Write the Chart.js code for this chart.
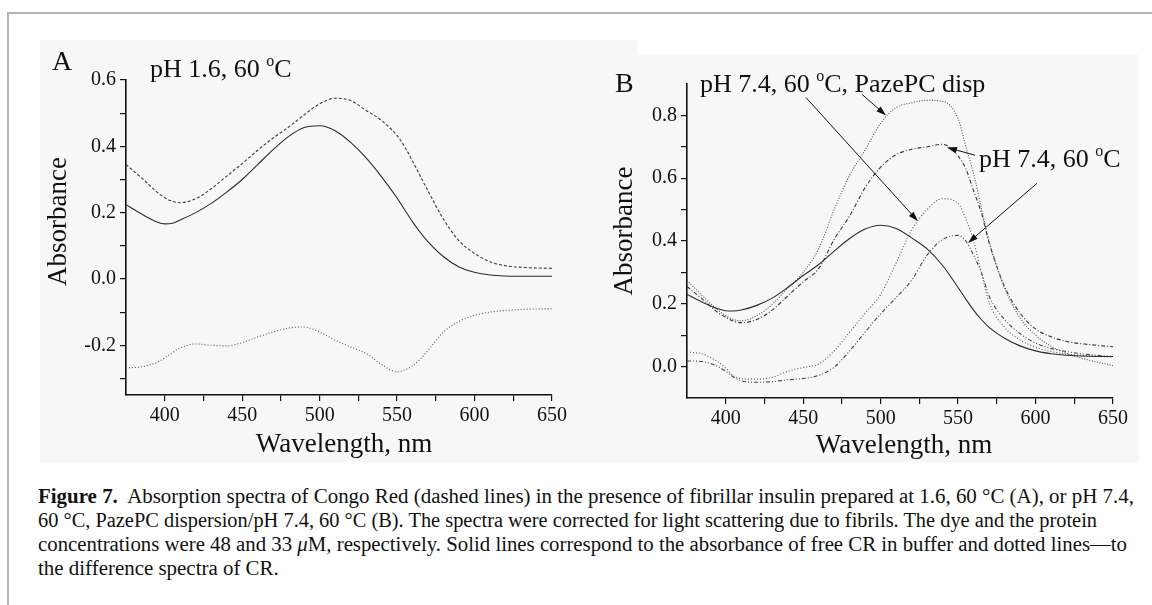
<!DOCTYPE html>
<html>
<head>
<meta charset="utf-8">
<script src="https://cdn.jsdelivr.net/npm/chart.js@4/dist/chart.umd.min.js"></script>
<style>
  html, body { margin: 0; padding: 0; background: #fff; }
  body { width: 1152px; height: 605px; position: relative; overflow: hidden; font-family: "Liberation Serif", serif; }
  .rule { position: absolute; background: #b4b4b4; }
  .panel-bg { position: absolute; background: #f7f7f7; }
  .wrap { position: absolute; top: 0; height: 470px; }
  #wrapA { left: 0; width: 580px; }
  #wrapB { left: 580px; width: 572px; }
  #caption { position: absolute; left: 38px; top: 484px; font-size: 20.5px; line-height: 24px; color: #111; white-space: nowrap; }
  #caption div { transform-origin: 0 0; width: max-content; }
</style>
</head>
<body>
<div class="rule" style="left:7px; top:12px; width:1145px; height:2px;"></div>
<div class="rule" style="left:7px; top:12px; width:2px; height:593px;"></div>
<div class="panel-bg" style="left:40px; top:40px; width:540px; height:422px;"></div>
<div class="panel-bg" style="left:580px; top:40px; width:57px; height:422px;"></div>
<div class="panel-bg" style="left:580px; top:55px; width:559px; height:407px;"></div>

<div class="wrap" id="wrapA"><canvas id="chartA" width="580" height="470"></canvas></div>
<div class="wrap" id="wrapB"><canvas id="chartB" width="572" height="470"></canvas></div>

<div id="caption">
  <div data-w="1096"><b>Figure 7.</b>&nbsp; Absorption spectra of Congo Red (dashed lines) in the presence of fibrillar insulin prepared at 1.6, 60 °C (A), or pH 7.4,</div>
  <div data-w="1059">60 °C, PazePC dispersion/pH 7.4, 60 °C (B). The spectra were corrected for light scattering due to fibrils. The dye and the protein</div>
  <div data-w="1089">concentrations were 48 and 33 <i>μ</i>M, respectively. Solid lines correspond to the absorbance of free CR in buffer and dotted lines—to</div>
  <div>the difference spectra of CR.</div>
</div>

<script>
// ── data ───────────────────────────────────────────────────────
var wavelengths = [375, 385, 395, 400, 405, 410, 420, 430, 440, 450, 460, 470, 480, 490, 500, 510,
                   520, 530, 540, 550, 555, 560, 565, 570, 580, 590, 600, 610, 620, 635, 650];

// panel A: pH 1.6, 60 C
var freeCR_A   = [0.224, 0.196, 0.172, 0.166, 0.168, 0.178, 0.200, 0.228, 0.262, 0.300, 0.345, 0.390, 0.430, 0.457, 0.462, 0.447,
                  0.412, 0.365, 0.308, 0.244, 0.208, 0.172, 0.140, 0.112, 0.067, 0.036, 0.020, 0.012, 0.009, 0.008, 0.008];
var fibrilCR_A = [0.345, 0.305, 0.262, 0.245, 0.234, 0.230, 0.242, 0.272, 0.310, 0.348, 0.388, 0.425, 0.458, 0.495, 0.528, 0.545,
                  0.538, 0.508, 0.478, 0.432, 0.398, 0.355, 0.310, 0.265, 0.180, 0.115, 0.077, 0.052, 0.040, 0.034, 0.032];
var diffCR_A   = [-0.268, -0.265, -0.252, -0.238, -0.222, -0.208, -0.196, -0.200, -0.202, -0.192, -0.175, -0.160, -0.148, -0.145, -0.160, -0.185,
                  -0.205, -0.225, -0.258, -0.280, -0.274, -0.262, -0.242, -0.215, -0.160, -0.128, -0.110, -0.100, -0.095, -0.091, -0.090];

// panel B: pH 7.4, 60 C and PazePC dispersion
var freeCR_B   = [0.230, 0.205, 0.184, 0.178, 0.177, 0.180, 0.195, 0.218, 0.252, 0.290, 0.325, 0.368, 0.408, 0.438, 0.450, 0.440,
                  0.410, 0.375, 0.322, 0.252, 0.215, 0.180, 0.150, 0.125, 0.090, 0.066, 0.050, 0.041, 0.036, 0.033, 0.032];
var pazeCR_B   = [0.275, 0.225, 0.180, 0.162, 0.150, 0.146, 0.162, 0.198, 0.250, 0.300, 0.375, 0.500, 0.610, 0.690, 0.775, 0.825,
                  0.840, 0.848, 0.845, 0.790, 0.700, 0.615, 0.505, 0.400, 0.250, 0.155, 0.100, 0.065, 0.042, 0.020, 0.003];
var ph74CR_B   = [0.255, 0.215, 0.172, 0.157, 0.145, 0.140, 0.150, 0.180, 0.225, 0.270, 0.312, 0.405, 0.480, 0.570, 0.635, 0.675,
                  0.692, 0.700, 0.708, 0.670, 0.630, 0.560, 0.490, 0.395, 0.255, 0.170, 0.120, 0.095, 0.080, 0.070, 0.063];
var pazeDiff_B = [0.047, 0.040, 0.015, -0.005, -0.030, -0.038, -0.040, -0.034, -0.015, -0.003, 0.008, 0.050, 0.110, 0.170, 0.230, 0.330,
                  0.435, 0.500, 0.535, 0.520, 0.470, 0.400, 0.300, 0.205, 0.125, 0.085, 0.062, 0.048, 0.040, 0.034, 0.030];
var ph74Diff_B = [0.018, 0.016, 0.000, -0.015, -0.033, -0.045, -0.050, -0.048, -0.042, -0.038, -0.028, -0.002, 0.050, 0.110, 0.168, 0.220,
                  0.275, 0.355, 0.405, 0.418, 0.400, 0.355, 0.300, 0.225, 0.150, 0.105, 0.075, 0.058, 0.048, 0.038, 0.032];

// ticks
var xTicks      = [400, 425, 450, 475, 500, 525, 550, 575, 600, 625, 650];
var xTickLabels = [400, 450, 500, 550, 600, 650];
var yTicksA      = [-0.3, -0.2, -0.1, 0.0, 0.1, 0.2, 0.3, 0.4, 0.5, 0.6];
var yTickLabelsA = [-0.2, 0.0, 0.2, 0.4, 0.6];
var yTicksB      = [0.0, 0.1, 0.2, 0.3, 0.4, 0.5, 0.6, 0.7, 0.8];
var yTickLabelsB = [0.0, 0.2, 0.4, 0.6, 0.8];

var SERIF = '"Liberation Serif", "Times New Roman", serif';

function pts(ys) {
  return wavelengths.map(function(x, i) { return { x: x, y: ys[i] }; });
}

function line(ys, color, dash, width) {
  return {
    data: pts(ys),
    borderColor: color,
    borderWidth: width || 1.1,
    borderDash: dash || [],
    pointRadius: 0,
    fill: false,
    cubicInterpolationMode: "monotone"
  };
}

function tickFmt(list) {
  return function(v) {
    for (var i = 0; i < list.length; i++) {
      if (Math.abs(list[i] - v) < 1e-6) return Number(list[i]).toFixed(list === xTickLabels ? 0 : 1);
    }
    return "";
  };
}

// draw a string made of segments, some of them superscript
function drawSegments(ctx, segs, x, y, size) {
  var cx = x;
  segs.forEach(function(s) {
    if (s.sup) {
      ctx.font = Math.round(size * 0.6) + "px " + SERIF;
      ctx.fillText(s.t, cx, y - size * 0.42);
    } else {
      ctx.font = size + "px " + SERIF;
      ctx.fillText(s.t, cx, y);
    }
    cx += ctx.measureText(s.t).width;
  });
}

function arrow(ctx, x1, y1, x2, y2) {
  var ang = Math.atan2(y2 - y1, x2 - x1);
  var len = 10, hw = 3.2;
  ctx.beginPath();
  ctx.moveTo(x1, y1);
  ctx.lineTo(x2 - Math.cos(ang) * len * 0.8, y2 - Math.sin(ang) * len * 0.8);
  ctx.stroke();
  ctx.beginPath();
  ctx.moveTo(x2, y2);
  ctx.lineTo(x2 - Math.cos(ang) * len - Math.sin(ang) * hw, y2 - Math.sin(ang) * len + Math.cos(ang) * hw);
  ctx.lineTo(x2 - Math.cos(ang) * len + Math.sin(ang) * hw, y2 - Math.sin(ang) * len - Math.cos(ang) * hw);
  ctx.closePath();
  ctx.fill();
}

// ── annotations: panel letter, axis titles, labels, arrows ─────
var notesPlugin = {
  id: "notes",
  afterDraw: function(chart, args, opts) {
    var ctx = chart.ctx;
    var area = chart.chartArea;
    var xs = chart.scales.x, ys = chart.scales.y;
    ctx.save();
    ctx.fillStyle = "#111";
    ctx.strokeStyle = "#111";
    ctx.textBaseline = "alphabetic";

    // panel letter
    ctx.textAlign = "left";
    ctx.font = "28px " + SERIF;
    ctx.fillText(opts.letter, opts.letterPos[0], opts.letterPos[1]);

    // axis titles
    ctx.font = "27px " + SERIF;
    ctx.textAlign = "center";
    ctx.fillText("Wavelength, nm", (area.left + area.right) / 2 + opts.xTitleShift, opts.xTitleBase);
    ctx.save();
    ctx.translate(opts.yTitleBase, (area.top + area.bottom) / 2 - opts.yTitleLift);
    ctx.rotate(-Math.PI / 2);
    ctx.fillText("Absorbance", 0, 0);
    ctx.restore();

    // condition labels
    ctx.textAlign = "left";
    opts.labels.forEach(function(l) {
      drawSegments(ctx, l.segs, l.pos[0], l.pos[1], 26);
    });

    // arrows, given in data units
    ctx.lineWidth = 1;
    (opts.arrows || []).forEach(function(a) {
      arrow(ctx, xs.getPixelForValue(a[0]), ys.getPixelForValue(a[1]),
                 xs.getPixelForValue(a[2]), ys.getPixelForValue(a[3]));
    });
    ctx.restore();
  }
};

function axisOpts(ticks, labels, min, max, isX, fitSize) {
  return {
    type: "linear",
    min: min,
    max: max,
    offset: false,
    border: { display: true, color: "#111", width: 1.6 },
    grid: { display: true, drawOnChartArea: false, drawTicks: true, tickLength: 6, color: "#111", lineWidth: 1.2 },
    afterBuildTicks: function(scale) {
      scale.ticks = ticks.map(function(v) { return { value: v }; });
    },
    afterFit: function(scale) {
      if (isX) scale.height = fitSize; else scale.width = fitSize;
    },
    ticks: {
      autoSkip: false,
      maxRotation: 0,
      color: "#111",
      padding: isX ? 3 : 4,
      font: { family: SERIF, size: 20 },
      callback: tickFmt(labels)
    }
  };
}

function makeChart(id, datasets, cfg) {
  return new Chart(document.getElementById(id), {
    type: "line",
    data: { datasets: datasets },
    options: {
      responsive: false,
      animation: false,
      devicePixelRatio: 1,
      layout: { padding: cfg.padding },
      plugins: { legend: { display: false }, tooltip: { enabled: false }, notes: cfg.notes },
      scales: {
        x: axisOpts(xTicks, xTickLabels, 375, 650, true, cfg.xHeight),
        y: axisOpts(cfg.yTicks, cfg.yLabels, cfg.yMin, cfg.yMax, false, cfg.yWidth)
      }
    },
    plugins: [notesPlugin]
  });
}

function deg(before, after) {
  return [{ t: before }, { t: "o", sup: true }, { t: after }];
}

makeChart("chartA", [
  line(freeCR_A, "#2b2b2b"),
  line(fibrilCR_A, "#3a3a3a", [3, 2]),
  line(diffCR_A, "#555", [1, 2])
], {
  padding: { left: 0, top: 80, right: 28, bottom: 0 },
  xHeight: 75, yWidth: 126,
  yTicks: yTicksA, yLabels: yTickLabelsA, yMin: -0.35, yMax: 0.6,
  notes: {
    letter: "A", letterPos: [52, 70],
    xTitleShift: 5, xTitleBase: 452,
    yTitleBase: 66, yTitleLift: 16,
    labels: [{ segs: deg("pH 1.6, 60 ", "C"), pos: [150, 77] }],
    arrows: []
  }
});

makeChart("chartB", [
  line(freeCR_B, "#2b2b2b"),
  line(pazeCR_B, "#555", [1, 1.6]),
  line(ph74CR_B, "#333", [4, 2, 1, 2]),
  line(pazeDiff_B, "#555", [1, 2]),
  line(ph74Diff_B, "#444", [4, 2, 1, 2, 1, 2])
], {
  padding: { left: 0, top: 84, right: 39, bottom: 0 },
  xHeight: 72, yWidth: 107,
  yTicks: yTicksB, yLabels: yTickLabelsB, yMin: -0.1, yMax: 0.9,
  notes: {
    letter: "B", letterPos: [35, 92],
    xTitleShift: 4, xTitleBase: 453,
    yTitleBase: 52, yTitleLift: 10,
    labels: [
      { segs: deg("pH 7.4, 60 ", "C, PazePC disp"), pos: [120, 92] },
      { segs: deg("pH 7.4, 60 ", "C"), pos: [399, 167] }
    ],
    arrows: [
      [451.8, 0.857, 524.1, 0.463],
      [488.0, 0.867, 503.5, 0.800],
      [561.0, 0.673, 542.8, 0.698],
      [601.0, 0.584, 556.4, 0.394]
    ]
  }
});

// caption: condensed setting, each line squeezed to the printed width
(function() {
  var lines = document.querySelectorAll("#caption div");
  var k0 = 1;
  lines.forEach(function(el, i) {
    var w = el.getBoundingClientRect().width;
    var target = el.getAttribute("data-w");
    var k = target ? Number(target) / w : k0;
    if (i === 0) k0 = k;
    el.style.transform = "scaleX(" + k + ")";
  });
})();
</script>
</body>
</html>
